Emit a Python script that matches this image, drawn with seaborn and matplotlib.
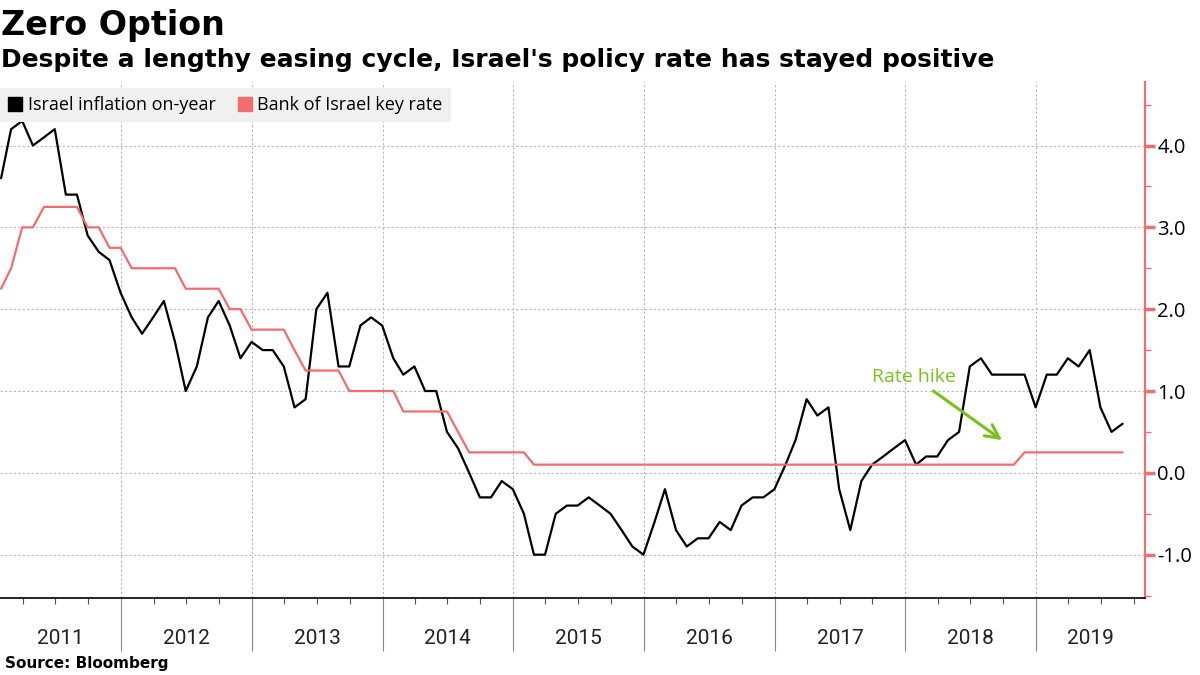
import numpy as np
import pandas as pd
import matplotlib.pyplot as plt
import matplotlib.dates as mdates
import matplotlib.transforms as mtransforms
from matplotlib.lines import Line2D
import seaborn as sns

# monthly data, Jan 2011 - Aug 2019 (month end)
inflation = [
    3.6, 4.2, 4.3, 4.0, 4.1, 4.2, 3.4, 3.4, 2.9, 2.7, 2.6, 2.2,   # 2011
    1.9, 1.7, 1.9, 2.1, 1.6, 1.0, 1.3, 1.9, 2.1, 1.8, 1.4, 1.6,   # 2012
    1.5, 1.5, 1.3, 0.8, 0.9, 2.0, 2.2, 1.3, 1.3, 1.8, 1.9, 1.8,   # 2013
    1.4, 1.2, 1.3, 1.0, 1.0, 0.5, 0.3, 0.0, -0.3, -0.3, -0.1, -0.2,  # 2014
    -0.5, -1.0, -1.0, -0.5, -0.4, -0.4, -0.3, -0.4, -0.5, -0.7, -0.9, -1.0,  # 2015
    -0.6, -0.2, -0.7, -0.9, -0.8, -0.8, -0.6, -0.7, -0.4, -0.3, -0.3, -0.2,  # 2016
    0.1, 0.4, 0.9, 0.7, 0.8, -0.2, -0.7, -0.1, 0.1, 0.2, 0.3, 0.4,  # 2017
    0.1, 0.2, 0.2, 0.4, 0.5, 1.3, 1.4, 1.2, 1.2, 1.2, 1.2, 0.8,   # 2018
    1.2, 1.2, 1.4, 1.3, 1.5, 0.8, 0.5, 0.6,                       # 2019
]
key_rate = [
    2.25, 2.5, 3.0, 3.0, 3.25, 3.25, 3.25, 3.25, 3.0, 3.0, 2.75, 2.75,
    2.5, 2.5, 2.5, 2.5, 2.5, 2.25, 2.25, 2.25, 2.25, 2.0, 2.0, 1.75,
    1.75, 1.75, 1.75, 1.5, 1.25, 1.25, 1.25, 1.25, 1.0, 1.0, 1.0, 1.0,
    1.0, 0.75, 0.75, 0.75, 0.75, 0.75, 0.5, 0.25, 0.25, 0.25, 0.25, 0.25,
    0.25, 0.1, 0.1, 0.1, 0.1, 0.1, 0.1, 0.1, 0.1, 0.1, 0.1, 0.1,
    0.1, 0.1, 0.1, 0.1, 0.1, 0.1, 0.1, 0.1, 0.1, 0.1, 0.1, 0.1,
    0.1, 0.1, 0.1, 0.1, 0.1, 0.1, 0.1, 0.1, 0.1, 0.1, 0.1, 0.1,
    0.1, 0.1, 0.1, 0.1, 0.1, 0.1, 0.1, 0.1, 0.1, 0.1, 0.25, 0.25,
    0.25, 0.25, 0.25, 0.25, 0.25, 0.25, 0.25, 0.25,
]
dates = pd.date_range('2011-01-31', periods=len(inflation), freq='ME')
series_names = ['Israel inflation on-year', 'Bank of Israel key rate']
years = list(range(2011, 2020))

BLACK = '#000000'
RED = '#f26d6d'
GREEN = '#77c21d'
GRID = '#b8b8b8'

df = pd.DataFrame({'date': dates, series_names[0]: inflation, series_names[1]: key_rate})
long = df.melt(id_vars='date', var_name='series', value_name='value')

sns.set_style('white')
plt.rcParams['font.family'] = ['DejaVu Sans']
plt.rcParams['text.color'] = 'black'

fig = plt.figure(figsize=(12, 6.75), dpi=100)
ax = fig.add_axes([0.0, 0.114, 0.954, 0.765])

sns.lineplot(data=long, x='date', y='value', hue='series', hue_order=series_names,
             palette=[BLACK, RED], linewidth=1.6, legend=False, ax=ax)

x0 = pd.Timestamp('2011-01-28')
x1 = pd.Timestamp('2019-11-01')
ax.set_xlim(x0, x1)
ax.set_ylim(-1.53, 4.78)
ax.set_xlabel('')
ax.set_ylabel('')

# y axis on the right, red
ax.yaxis.tick_right()
ax.set_yticks(np.arange(-1, 5, 1.0))
ax.set_yticks(np.arange(-1.5, 5, 0.5), minor=True)
ax.yaxis.set_major_formatter(plt.FuncFormatter(lambda v, p: f'{v:.1f}'))
ax.tick_params(axis='y', which='major', colors=RED, length=7, width=2.5, right=True,
               direction='out', labelcolor='black', labelsize=14.5, pad=2)
ax.tick_params(axis='y', which='minor', colors=RED, length=4, width=1, right=True, direction='out')
for lab in ax.get_yticklabels():
    lab.set_family(['Open Sans', 'DejaVu Sans'])

# x axis: years with quarter ticks
ax.xaxis.set_major_locator(mdates.YearLocator())
ax.xaxis.set_minor_locator(mdates.MonthLocator(bymonth=[4, 7, 10]))
ax.xaxis.set_major_formatter(plt.NullFormatter())
ax.tick_params(axis='x', which='major', bottom=True, length=38, width=0.8,
               color='#888888', direction='out')
ax.tick_params(axis='x', which='minor', bottom=True, length=4, width=0.8,
               color='#555555', direction='out')

ax.grid(True, which='major', axis='both', linestyle=(0, (2, 2)), color=GRID, linewidth=0.8)

for s in ['top', 'left']:
    ax.spines[s].set_visible(False)
ax.spines['right'].set_color(RED)
ax.spines['right'].set_linewidth(1.5)
ax.spines['bottom'].set_color('black')
ax.spines['bottom'].set_linewidth(1.2)

# year labels centred in visible part of each year
trans = mtransforms.blended_transform_factory(ax.transData, ax.transAxes)
for y in years:
    a = max(pd.Timestamp(f'{y}-01-01'), x0)
    b = min(pd.Timestamp(f'{y + 1}-01-01'), x1)
    mid = a + (b - a) / 2
    ax.text(mdates.date2num(mid), -0.078, str(y), transform=trans, ha='center', va='center',
            fontsize=15, family=['Liberation Sans Narrow', 'Roboto', 'DejaVu Sans'],
            color='#222222')

# legend
handles = [Line2D([], [], marker='s', linestyle='none', color=c, markersize=10)
           for c in [BLACK, RED]]
leg = ax.legend(handles, series_names, loc='upper left', bbox_to_anchor=(0.0, 0.988),
                ncol=2, frameon=True, fancybox=False, facecolor='#f0f0f0', edgecolor='none',
                framealpha=1, handlelength=0.8, handletextpad=0.3, columnspacing=1.2,
                borderaxespad=0, borderpad=0.45, prop={'family': 'Open Sans', 'size': 13})

# annotation
ax.annotate('Rate hike', xy=(pd.Timestamp('2018-09-28'), 0.40),
            xytext=(pd.Timestamp('2018-01-25'), 1.17), ha='center', va='center',
            color=GREEN, fontsize=14, family='Open Sans',
            arrowprops=dict(arrowstyle='->,head_length=0.7,head_width=0.35', color=GREEN, lw=2.2,
                            shrinkA=2, shrinkB=0))

fig.text(0.001, 0.962, 'Zero Option', fontsize=24, fontweight='bold', va='center', ha='left')
fig.text(0.001, 0.911, "Despite a lengthy easing cycle, Israel's policy rate has stayed positive",
         fontsize=18, fontweight='bold', va='center', ha='left')
fig.text(0.004, 0.017, 'Source: Bloomberg', fontsize=11, fontweight='bold', va='center', ha='left')

fig.savefig('out.png', dpi=100)
